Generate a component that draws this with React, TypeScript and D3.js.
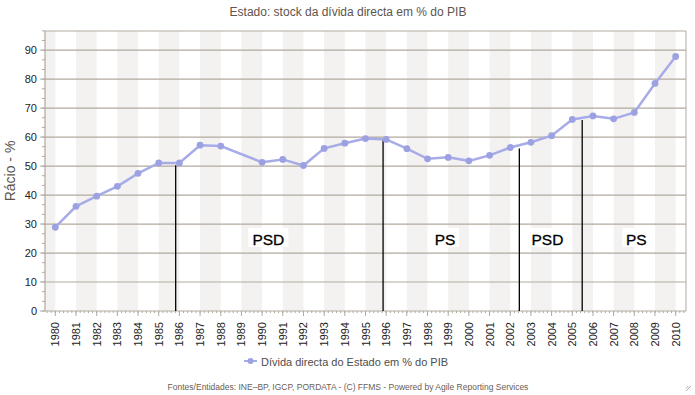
import * as d3 from "d3";
import { useMemo } from "react";

// anos e valores (Dívida directa do Estado em % do PIB); 1989 sem dado
const years = d3.range(1980, 2011);
const debtValues: (number | null)[] = [
  28.9, 36.1, 39.6, 43.0, 47.5, 51.1, 51.1, 57.2, 56.9, null,
  51.3, 52.3, 50.2, 56.1, 57.9, 59.5, 59.2, 56.0, 52.5, 53.0,
  51.8, 53.7, 56.4, 58.2, 60.5, 66.1, 67.3, 66.3, 68.5, 78.5,
  87.8,
];

// mudanças de governo (ano fraccionário, valor no topo da linha)
const changeYears = [1985.82, 1995.85, 2002.44, 2005.48];
const changeValues = [50.3, 59.2, 56.1, 65.9];

const partyLabels = ["PSD", "PS", "PSD", "PS"];
const partyYears = [1990.3, 1998.85, 2003.8, 2008.1];

const yTicks = [0, 10, 20, 30, 40, 50, 60, 70, 80, 90];

const FONT = "'Liberation Sans', Arial, Helvetica, sans-serif";

export default function App() {
  const width = 695;
  const height = 395;
  const margin = { top: 31, right: 9, bottom: 84, left: 45 };
  const x0 = margin.left;
  const x1 = width - margin.right;
  const y0 = height - margin.bottom;
  const y1 = margin.top;

  const xBand = useMemo(
    () => d3.scaleBand<number>().domain(years).range([x0, x1]).padding(0),
    [x0, x1]
  );
  const bw = xBand.bandwidth();
  const cx = (yr: number) => (xBand(yr) as number) + bw / 2;

  const xLin = useMemo(
    () => d3.scaleLinear().domain([1980, 2010]).range([cx(1980), cx(2010)]),
    [bw]
  );

  const yScale = useMemo(
    () => d3.scaleLinear().domain([0, 96.6]).range([y0, y1]),
    [y0, y1]
  );

  const points = years
    .map((yr, i) => ({ yr, v: debtValues[i] }))
    .filter((d) => d.v !== null) as { yr: number; v: number }[];

  const line = d3
    .line<{ yr: number; v: number }>()
    .x((d) => cx(d.yr))
    .y((d) => yScale(d.v));

  // faixas alternadas
  const stripes: [number, number][] = [[x0, cx(1980)]];
  for (let yr = 1981; yr < 2010; yr += 2) stripes.push([cx(yr), cx(yr + 1)]);

  // pequenos traços do eixo x
  const minorX: number[] = [];
  const step = bw / 5;
  for (let p = cx(1980) - step; p >= x0; p -= step) minorX.push(p);
  for (let p = cx(1980); p <= x1 + 0.1; p += step) minorX.push(p);

  const minorY = d3.range(0, 97, 10 / 3);

  const gridColor = "#b1a99f";

  return (
    <svg
      width={width}
      height={height}
      style={{ position: "absolute", left: 0, top: 0, background: "#fff" }}
      fontFamily={FONT}
    >
      <text
        x={348}
        y={16}
        textAnchor="middle"
        fontSize={12}
        fill="#5e544c"
      >
        Estado: stock da dívida directa em % do PIB
      </text>

      {stripes.map(([a, b], i) => (
        <rect key={i} x={a} y={y1} width={b - a} height={y0 - y1} fill="#f3f2f0" />
      ))}

      {yTicks.slice(1).map((t) => (
        <line key={t} x1={x0} x2={x1} y1={yScale(t)} y2={yScale(t)} stroke={gridColor} strokeWidth={1.2} />
      ))}

      <line x1={x0} x2={x1} y1={y1} y2={y1} stroke={gridColor} strokeWidth={1} />
      <line x1={x1} x2={x1} y1={y1} y2={y0} stroke={gridColor} strokeWidth={1} />
      <line x1={x0} x2={x0} y1={y1} y2={y0} stroke={gridColor} strokeWidth={1.2} />
      <line x1={x0} x2={x1} y1={y0} y2={y0} stroke={gridColor} strokeWidth={1.2} />

      {minorY.map((t, i) => (
        <line key={i} x1={x0 - 3} x2={x0} y1={yScale(t)} y2={yScale(t)} stroke={gridColor} />
      ))}
      {yTicks.map((t) => (
        <g key={t}>
          <line x1={x0 - 5} x2={x0} y1={yScale(t)} y2={yScale(t)} stroke={gridColor} />
          <text x={37} y={yScale(t) + 4} textAnchor="end" fontSize={11} fill="#222">
            {t}
          </text>
        </g>
      ))}

      {minorX.map((p, i) => (
        <line key={i} x1={p} x2={p} y1={y0} y2={y0 + 2} stroke={gridColor} />
      ))}
      {years.map((yr) => (
        <g key={yr}>
          <line x1={cx(yr)} x2={cx(yr)} y1={y0} y2={y0 + 5} stroke={gridColor} />
          <text
            transform={`translate(${cx(yr) + 4},${y0 + 11}) rotate(-90)`}
            textAnchor="end"
            fontSize={11}
            fill="#222"
          >
            {yr}
          </text>
        </g>
      ))}

      <text
        transform={`translate(15,${(y0 + y1) / 2}) rotate(-90)`}
        textAnchor="middle"
        fontSize={14}
        fill="#5e544c"
      >
        Rácio - %
      </text>

      {changeYears.map((yr, i) => (
        <line
          key={i}
          x1={xLin(yr)}
          x2={xLin(yr)}
          y1={yScale(changeValues[i])}
          y2={y0}
          stroke="#000"
          strokeWidth={1.3}
        />
      ))}

      {partyLabels.map((lab, i) => {
        const px = xLin(partyYears[i]);
        const w = lab.length === 3 ? 40 : 28;
        return (
          <g key={i}>
            <rect x={px - w / 2} y={228} width={w} height={19} fill="#fff" />
            <text x={px} y={244.5} textAnchor="middle" fontSize={15.5} fill="#000" stroke="#000" strokeWidth={0.3}>
              {lab}
            </text>
          </g>
        );
      })}

      <path d={line(points) || ""} fill="none" stroke="#a7abe8" strokeWidth={2.5} />
      {points.map((d) => (
        <circle key={d.yr} cx={cx(d.yr)} cy={yScale(d.v)} r={3.4} fill="#9ca1e2" />
      ))}

      <line x1={244} x2={257} y1={361} y2={361} stroke="#a7abe8" strokeWidth={2} />
      <circle cx={250.5} cy={361} r={3} fill="#9ca1e2" />
      <text x={261} y={365.5} fontSize={11} fill="#4d4d4d">
        Dívida directa do Estado em % do PIB
      </text>

      <text x={348} y={390} textAnchor="middle" fontSize={8.5} fill="#6b5d52">
        Fontes/Entidades: INE–BP, IGCP, PORDATA - (C) FFMS - Powered by Agile Reporting Services
      </text>

      {[0, 1, 2].map((k) => (
        <line
          key={k}
          x1={691 - k * 2.5}
          y1={386}
          x2={686}
          y2={391 - k * 2.5 + 0}
          stroke="#999"
          strokeWidth={0.8}
        />
      ))}
    </svg>
  );
}
